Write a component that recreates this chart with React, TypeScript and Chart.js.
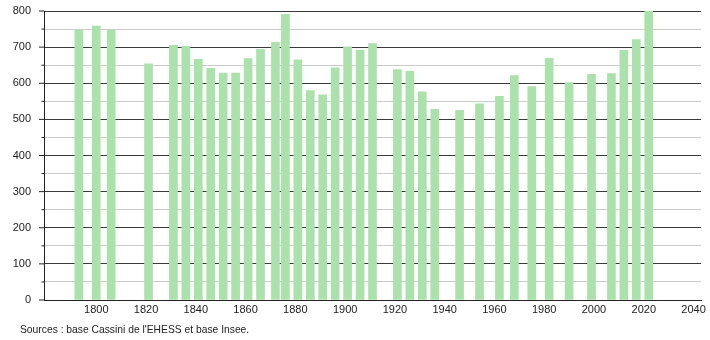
import React, { useEffect, useRef } from "react";
import { Chart, registerables } from "chart.js";

Chart.register(...registerables);

const years = [1793, 1800, 1806, 1821, 1831, 1836, 1841, 1846, 1851, 1856, 1861, 1866, 1872, 1876, 1881, 1886, 1891, 1896, 1901, 1906, 1911, 1921, 1926, 1931, 1936, 1946, 1954, 1962, 1968, 1975, 1982, 1990, 1999, 2007, 2012, 2017, 2022];
const population = [747, 758, 748, 654, 705, 702, 666, 641, 628, 628, 668, 694, 713, 791, 665, 580, 568, 643, 701, 691, 710, 638, 633, 576, 528, 525, 543, 564, 621, 591, 669, 602, 625, 627, 691, 721, 800];
const xTickLabels = [1800, 1820, 1840, 1860, 1880, 1900, 1920, 1940, 1960, 1980, 2000, 2020, 2040];
const xMin = 1779;
const xMax = 2043;
const yMax = 800;
const yStep = 50;
const sourceText = "Sources : base Cassini de l'EHESS et base Insee.";

const FONT = "'Liberation Sans', Arial, sans-serif";

export default function App() {
  const ref = useRef<HTMLCanvasElement | null>(null);

  useEffect(() => {
    if (!ref.current) return;
    const tickPlugin = {
      id: "yTickMarks",
      afterDraw(chart: any) {
        const y = chart.scales.y;
        const ctx = chart.ctx;
        const x0 = chart.chartArea.left;
        ctx.save();
        ctx.strokeStyle = "#222";
        ctx.lineWidth = 1;
        for (let v = 0; v <= yMax; v += yStep) {
          const py = y.getPixelForValue(v);
          const len = v % 100 === 0 ? 5 : 2.5;
          ctx.beginPath();
          ctx.moveTo(x0 - len, py);
          ctx.lineTo(x0, py);
          ctx.stroke();
        }
        ctx.restore();
      },
    };
    const chart = new Chart(ref.current, {
      type: "bar",
      data: {
        datasets: [
          {
            data: years.map((yr, i) => ({ x: yr, y: population[i] })),
            backgroundColor: "#abe2ab",
            borderWidth: 0,
            barThickness: 8,
          },
        ],
      },
      plugins: [tickPlugin],
      options: {
        animation: false,
        responsive: false,
        maintainAspectRatio: false,
        layout: { padding: { top: 11, right: 9, left: 0, bottom: 0 } },
        plugins: { legend: { display: false }, tooltip: { enabled: false } },
        scales: {
          x: {
            type: "linear",
            offset: false,
            min: xMin,
            max: xMax,
            afterBuildTicks: (scale: any) => {
              scale.ticks = xTickLabels.map((v) => ({ value: v }));
            },
            afterFit: (scale: any) => {
              scale.height = 40;
            },
            grid: { display: false, drawTicks: false, offset: false },
            border: { display: true, color: "#222", width: 1 },
            ticks: {
              padding: 3,
              maxRotation: 0,
              autoSkip: false,
              color: "#222",
              font: { family: FONT, size: 11 },
              callback: (v: any) => String(v),
            },
          },
          y: {
            min: 0,
            max: yMax,
            afterFit: (scale: any) => {
              scale.width = 44;
              scale.paddingTop = 0;
              scale.paddingBottom = 0;
            },
            grid: {
              drawTicks: false,
              color: (c: any) => (c.tick && c.tick.value % 100 === 0 ? "#3a3a3a" : "#cccccc"),
              lineWidth: 1,
            },
            border: { display: true, color: "#222", width: 1 },
            ticks: {
              stepSize: yStep,
              padding: 13,
              color: "#222",
              font: { family: FONT, size: 11 },
              callback: (v: any) => (v % 100 === 0 ? String(v) : ""),
            },
          },
        },
      },
    });
    return () => chart.destroy();
  }, []);

  return (
    <div style={{ position: "fixed", left: 0, top: 0, width: 710, height: 340, background: "#fff" }}>
      <canvas ref={ref} width={710} height={340} style={{ display: "block" }} />
      <div
        style={{
          position: "absolute",
          left: 20,
          top: 323,
          fontFamily: FONT,
          fontSize: 10.3,
          color: "#222",
          whiteSpace: "nowrap",
          lineHeight: "14px",
        }}
      >
        {sourceText}
      </div>
    </div>
  );
}
